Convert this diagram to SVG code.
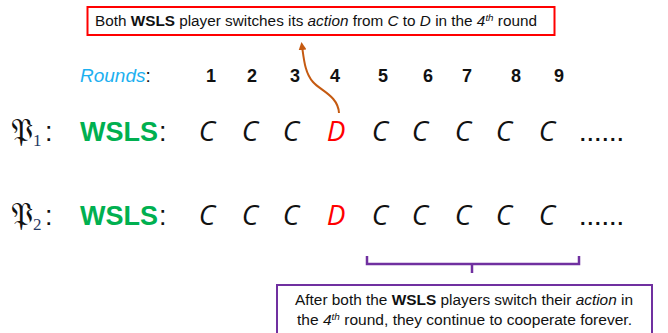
<svg xmlns="http://www.w3.org/2000/svg" width="668" height="333" viewBox="0 0 668 333">
<style>
.note{font-family:"Liberation Sans",Arial,sans-serif;font-size:14px;fill:#111}
.num{font-family:"Liberation Sans",Arial,sans-serif;font-size:18px;font-weight:bold;fill:#111;text-anchor:middle}
.act{font-family:"Open Sans","Liberation Sans",sans-serif;font-size:28px;font-style:italic;fill:#111;text-anchor:middle}
.d{fill:#FF0000}
.wsls{font-family:"Liberation Sans",Arial,sans-serif;font-size:27px;font-weight:bold;fill:#00B050}
.colon{font-family:"Liberation Sans",Arial,sans-serif;font-size:27px;font-weight:normal;fill:#111}
.frak{font-family:"DejaVu Serif","DejaVu Sans","Noto Sans",serif;font-size:31px;fill:#111}
.sub{font-family:"Liberation Serif",serif;font-size:17px;fill:#1F3864}
.dots{font-family:"Liberation Sans",Arial,sans-serif;font-size:20px;font-weight:bold;fill:#111}
</style>
<defs>
<marker id="ah" viewBox="0 0 10 10" refX="5" refY="5" markerWidth="4" markerHeight="4" orient="auto">
<path d="M0,0 L10,5 L0,10 z" fill="#C55A11"/>
</marker>
</defs>

<g id="top-note">
<rect x="87.5" y="7" width="467" height="28" fill="#fff" stroke="#FF0000" stroke-width="2"/>
<text class="note" x="95" y="26" textLength="442" lengthAdjust="spacingAndGlyphs">Both <tspan font-weight="bold">WSLS</tspan> player switches its <tspan font-style="italic">action</tspan> from <tspan font-style="italic">C</tspan> to <tspan font-style="italic">D</tspan> in the <tspan font-style="italic">4<tspan font-size="9" dy="-5">th</tspan></tspan><tspan dy="5"> round</tspan></text>
</g>

<g id="rounds">
<text x="80" y="82" font-family="Liberation Sans,Arial,sans-serif" font-size="19" font-style="italic" fill="#1CB0F0">Rounds<tspan font-style="normal" fill="#111">:</tspan></text>
<text class="num" x="211" y="82">1</text>
<text class="num" x="252" y="82">2</text>
<text class="num" x="295" y="82">3</text>
<text class="num" x="335" y="82">4</text>
<text class="num" x="383" y="82">5</text>
<text class="num" x="428" y="82">6</text>
<text class="num" x="467" y="82">7</text>
<text class="num" x="516" y="82">8</text>
<text class="num" x="559" y="82">9</text>
</g>

<g id="player1">
<text class="frak" x="11" y="141">𝔓</text>
<text class="sub" x="33" y="146">1</text>
<text class="colon" x="45" y="141">:</text>
<text class="wsls" x="80" y="141">WSLS</text>
<text class="colon" x="159" y="141">:</text>
<text class="act" y="141"><tspan x="207">C</tspan><tspan x="250">C</tspan><tspan x="291">C</tspan><tspan x="336" class="d">D</tspan><tspan x="380">C</tspan><tspan x="420">C</tspan><tspan x="463">C</tspan><tspan x="504">C</tspan><tspan x="547">C</tspan></text>
<text class="dots" x="580" y="141" textLength="43">......</text>
</g>

<g id="player2">
<text class="frak" x="11" y="225">𝔓</text>
<text class="sub" x="33" y="230">2</text>
<text class="colon" x="45" y="225">:</text>
<text class="wsls" x="80" y="225">WSLS</text>
<text class="colon" x="159" y="225">:</text>
<text class="act" y="225"><tspan x="207">C</tspan><tspan x="250">C</tspan><tspan x="291">C</tspan><tspan x="336" class="d">D</tspan><tspan x="380">C</tspan><tspan x="420">C</tspan><tspan x="463">C</tspan><tspan x="504">C</tspan><tspan x="547">C</tspan></text>
<text class="dots" x="580" y="225" textLength="43">......</text>
</g>

<g id="connectors">
<path d="M339,113 C338,96 321,91 313,82 C305,73 304,60 302,46" fill="none" stroke="#C55A11" stroke-width="2" marker-end="url(#ah)"/>
<path d="M367,256 V264 H579 V256 M472,264 V273" fill="none" stroke="#7030A0" stroke-width="2.5"/>
</g>

<g id="bottom-note">
<rect x="277" y="285" width="375" height="60" fill="#fff" stroke="#7030A0" stroke-width="2"/>
<text class="note" x="295" y="305" font-size="15" textLength="338" lengthAdjust="spacingAndGlyphs">After both the <tspan font-weight="bold">WSLS</tspan> players switch their <tspan font-style="italic">action</tspan> in</text>
<text class="note" x="297" y="325" font-size="15" textLength="335" lengthAdjust="spacingAndGlyphs">the <tspan font-style="italic">4<tspan font-size="9" dy="-5">th</tspan></tspan><tspan dy="5"> round, they continue to cooperate forever.</tspan></text>
</g>
</svg>
